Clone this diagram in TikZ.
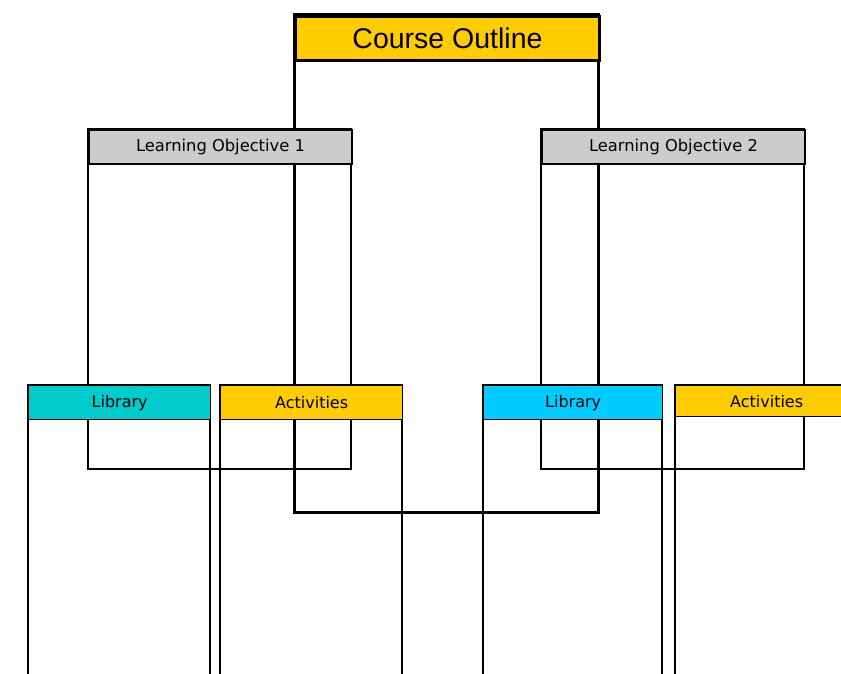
\documentclass[tikz,border=0pt]{standalone}
\usepackage{fontspec}
\setmainfont{DejaVu Sans}
\newfontfamily\titlefont{Liberation Sans}
\definecolor{cyellow}{HTML}{FFCC00}
\definecolor{cgray}{HTML}{CCCCCC}
\definecolor{cteal}{HTML}{00CCCC}
\definecolor{csky}{HTML}{00CCFF}
\begin{document}
\begin{tikzpicture}[x=1pt,y=-1pt,
  hdr/.style={draw,anchor=north west,inner sep=0pt,text=black},
  cohdr/.style={hdr,fill=cyellow,line width=3pt,minimum width=304pt,minimum height=44pt,font=\titlefont\fontsize{28.5}{31}\selectfont},
  lohdr/.style={hdr,fill=cgray,line width=2pt,minimum width=263pt,minimum height=34pt,font=\fontsize{16.3}{19}\selectfont},
  lowhdr/.style={hdr,line width=1.3pt,minimum width=182pt,minimum height=34pt,font=\fontsize{16}{19}\selectfont},
  cobody/.style={draw,line width=3pt},
  lobody/.style={draw,line width=2pt},
  lowbody/.style={draw,line width=1.3pt}]
\useasboundingbox (0,0) rectangle (841,674);
\clip (0,0) rectangle (841,674);
% Course outline
\draw[cobody] (294,15) rectangle (598,512);
\node[cohdr] (co) at (294,15) {\raisebox{1.5pt}{Course Outline}};
% Learning objectives
\draw[lobody] (88,129) rectangle (351,469);
\node[lohdr] (lo1) at (88,129) {Learning Objective 1};
\draw[lobody] (541,129) rectangle (804,469);
\node[lohdr] (lo2) at (541,129) {Learning Objective 2};
% lower boxes
\draw[lowbody] (28,385) rectangle (210,700);
\node[lowhdr,fill=cteal] (lib1) at (28,385) {Library};
\draw[lowbody] (220,385) rectangle (402,700);
\node[lowhdr,fill=cyellow] (act1) at (220,385) {Activities};
\draw[lowbody] (483,385) rectangle (662,700);
\node[lowhdr,fill=csky,minimum width=179pt] (lib2) at (483,385) {Library};
\draw[lowbody] (675,385) rectangle (857,700);
\node[lowhdr,fill=cyellow,minimum height=31pt] (act2) at (675,385) {Activities};
\end{tikzpicture}
\end{document}
